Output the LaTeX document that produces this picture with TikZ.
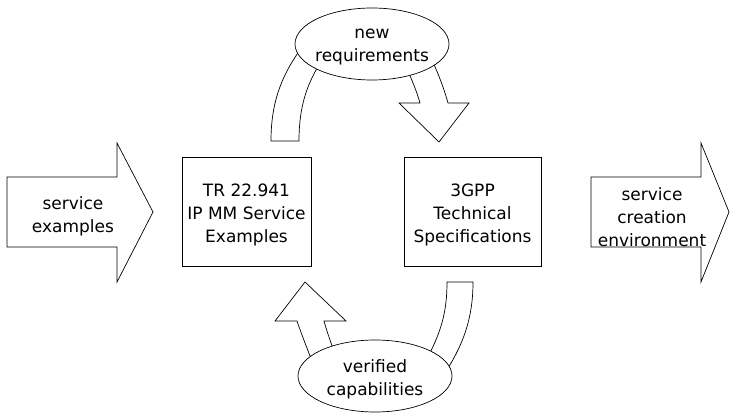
\documentclass[tikz,border=0pt]{standalone}
\usepackage{fontspec}
\setmainfont{DejaVu Sans}
\usetikzlibrary{shapes.geometric}
\begin{document}
\begin{tikzpicture}[x=1pt,y=-1pt,
  shp/.style={draw=black,line width=0.7pt,fill=white,line join=miter},
  lbl/.style={align=center,font=\fontsize{17}{23}\selectfont,inner sep=0pt,yshift=-3pt},
  boxn/.style={draw=black,line width=0.7pt,fill=white,inner sep=0pt},
  ell/.style={draw=black,line width=0.7pt,fill=white,ellipse,inner sep=0pt,minimum width=154pt,minimum height=72pt}]
\useasboundingbox (0,0) rectangle (730,414);
% left and right big arrows
\draw[shp] (7,177) -- (117,177) -- (117,143) -- (153,212) -- (117,282) -- (117,247) -- (7,247) -- cycle;
\node[lbl] (se) at (73,213) {service\\examples};
\draw[shp] (591,177) -- (701,177) -- (701,143) -- (729,212) -- (701,282) -- (701,247) -- (591,247) -- cycle;
\node[lbl] (sce) at (652,214) {service\\creation\\environment};
% boxes
\node[boxn,minimum width=129pt,minimum height=109pt] (tr) at (246.5,211.5) {};
\node[lbl] (trt) at (tr.center) {TR 22.941\\IP MM Service\\Examples};
\node[boxn,minimum width=137pt,minimum height=109pt] (gpp) at (472.5,211.5) {};
\node[lbl] (gppt) at (gpp.center) {3GPP\\Technical\\Specifications};
% top curved band (from TR box up to ellipse)
\draw[shp] (271,141) .. controls (271,105) and (280,78) .. (300,50)
  -- (322,60) .. controls (306,85) and (299,108) .. (299,141) -- cycle;
% top right arrow down to 3GPP
\draw[shp] (404,62) .. controls (412,80) and (417,92) .. (420,103) -- (399,103) -- (439,142) -- (469,103) -- (448,103)
  .. controls (443,85) and (436,68) .. (428,52) -- cycle;
% bottom up arrow to TR
\draw[shp] (318,378) .. controls (310,355) and (302,336) .. (297,321) -- (275,321) -- (305,282) -- (346,321) -- (324,321)
  .. controls (328,335) and (333,350) .. (342,370) -- cycle;
% bottom right curved band from 3GPP down to ellipse
\draw[shp] (447,282) .. controls (447,310) and (442,332) .. (425,362)
  -- (440,380) .. controls (465,345) and (473,315) .. (473,282) -- cycle;
% ellipses
\node[ell] (nr) at (372,44) {};
\node[lbl] (nrt) at (nr.center) {new\\requirements};
\node[ell] (vc) at (375,376) {};
\node[lbl] (vct) at (vc.center) {verified\\capabilities};
\end{tikzpicture}
\end{document}
